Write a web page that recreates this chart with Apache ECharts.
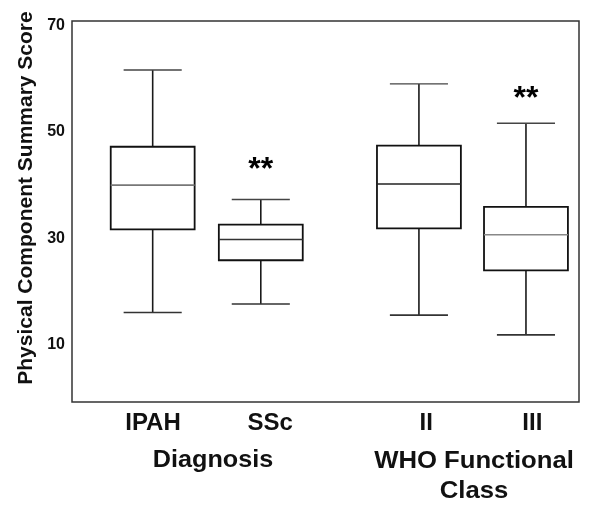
<!DOCTYPE html>
<html>
<head>
<meta charset="utf-8">
<script src="https://cdn.jsdelivr.net/npm/echarts@6/dist/echarts.min.js"></script>
<style>
  html, body { margin: 0; padding: 0; background: #fff; }
  #chart { width: 600px; height: 515px; }
</style>
</head>
<body>
<div id="chart"></div>
<script>
// ---- data ----
const categories   = ['IPAH', 'SSc', 'II', 'III'];
const whiskerLow   = [16.1, 17.7, 15.6, 11.9];
const q1           = [31.7, 25.9, 31.9, 24.0];
const median       = [40.0, 29.8, 40.2, 30.7];
const q3           = [47.2, 32.6, 47.4, 35.9];
const whiskerHigh  = [61.6, 37.3, 59.0, 51.6];
const significance = ['', '**', '', '**'];
const significanceY = [null, 43.7, null, 57.0];
const yTickLabels  = [10, 30, 50, 70];
const yTitle = 'Physical Component Summary Score';
const groupTitles = ['Diagnosis', 'WHO Functional', 'Class'];

// ---- layout constants (not data) ----
const slotX  = [0.75, 1.755, 3.225, 4.22];   // box centres on the x scale
const labelX = [0.753, 1.842, 3.293, 4.279]; // tick label positions
const boxW = 0.78, capW = 0.54;
const medianColor = ['#777', '#333', '#222', '#888'];
const FONT = "'Liberation Sans', Arial, Helvetica, sans-serif";

const chart = echarts.init(document.getElementById('chart'), null, { renderer: 'canvas' });

const seriesData = categories.map((c, i) => [i, whiskerLow[i], q1[i], median[i], q3[i], whiskerHigh[i]]);

function renderItem(params, api) {
  const i = api.value(0);
  const x = slotX[i];
  const pLow = api.coord([x, api.value(1)]);
  const pQ1 = api.coord([x, api.value(2)]);
  const pMed = api.coord([x, api.value(3)]);
  const pQ3 = api.coord([x, api.value(4)]);
  const pHigh = api.coord([x, api.value(5)]);
  const hw = api.size([boxW, 0])[0] / 2;
  const hc = api.size([capW, 0])[0] / 2;
  const cx = pLow[0];
  const lineStyle = { stroke: '#1a1a1a', lineWidth: 1.6 };
  const children = [
    { type: 'line', shape: { x1: cx, y1: pHigh[1], x2: cx, y2: pQ3[1] }, style: lineStyle },
    { type: 'line', shape: { x1: cx, y1: pQ1[1], x2: cx, y2: pLow[1] }, style: lineStyle },
    { type: 'line', shape: { x1: cx - hc, y1: pHigh[1], x2: cx + hc, y2: pHigh[1] }, style: { stroke: '#444', lineWidth: 1.4 } },
    { type: 'line', shape: { x1: cx - hc, y1: pLow[1], x2: cx + hc, y2: pLow[1] }, style: { stroke: '#333', lineWidth: 1.6 } },
    { type: 'rect', shape: { x: cx - hw, y: pQ3[1], width: 2 * hw, height: pQ1[1] - pQ3[1] },
      style: { fill: 'none', stroke: '#111', lineWidth: 1.8 } },
    { type: 'line', shape: { x1: cx - hw, y1: pMed[1], x2: cx + hw, y2: pMed[1] },
      style: { stroke: medianColor[i], lineWidth: 1.6 } }
  ];
  if (significance[i]) {
    const pS = api.coord([x, significanceY[i]]);
    children.push({
      type: 'text',
      x: cx, y: pS[1] + 5,
      style: { text: significance[i], fill: '#000', fontSize: 32, fontWeight: 'bold', fontFamily: FONT,
               align: 'center', verticalAlign: 'middle' }
    });
  }
  return { type: 'group', children };
}

function nearestLabel(v) {
  for (let k = 0; k < labelX.length; k++) if (Math.abs(labelX[k] - v) < 1e-6) return categories[k];
  return '';
}

const titleStyle = (t) => ({ text: t, fill: '#111', fontSize: 24, fontWeight: 'bold', fontFamily: FONT, align: 'center', verticalAlign: 'middle' });

chart.setOption({
  animation: false,
  backgroundColor: '#fff',
  grid: { left: 72, right: 21, top: 21, bottom: 113, show: true, borderColor: '#333', borderWidth: 1.5, backgroundColor: 'transparent' },
  xAxis: {
    type: 'value', min: 0, max: 4.713,
    axisLine: { show: false }, axisTick: { show: false }, splitLine: { show: false },
    axisLabel: {
      customValues: labelX,
      formatter: nearestLabel,
      margin: 9,
      color: '#111', fontSize: 24, fontWeight: 'bold', fontFamily: FONT
    }
  },
  yAxis: {
    type: 'value', min: -0.7, max: 70.8,
    axisLine: { show: false }, axisTick: { show: false }, splitLine: { show: false },
    axisLabel: {
      customValues: yTickLabels,
      margin: 7,
      color: '#111', fontSize: 16, fontWeight: 'bold', fontFamily: FONT
    }
  },
  series: [{
    type: 'custom',
    renderItem: renderItem,
    data: seriesData,
    encode: { x: 0, y: [1, 2, 3, 4, 5] },
    clip: false
  }],
  graphic: [
    { type: 'text', x: 26, y: 198, rotation: Math.PI / 2,
      style: { text: yTitle, fill: '#111', fontSize: 21, fontWeight: 'bold', fontFamily: FONT, align: 'center', verticalAlign: 'middle' } },
    { type: 'text', x: 213, y: 460, scaleX: 1.05, style: titleStyle(groupTitles[0]) },
    { type: 'text', x: 474, y: 461.5, scaleX: 1.07, style: titleStyle(groupTitles[1]) },
    { type: 'text', x: 474, y: 491, scaleX: 1.07, style: titleStyle(groupTitles[2]) }
  ]
});
</script>
</body>
</html>
